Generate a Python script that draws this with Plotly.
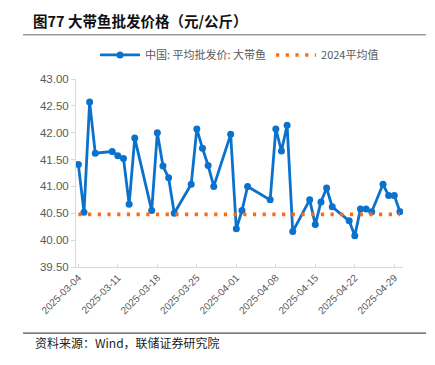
import plotly.graph_objects as go

dates = ["2025-03-04", "2025-03-05", "2025-03-06", "2025-03-07", "2025-03-10", "2025-03-11",
         "2025-03-12", "2025-03-13", "2025-03-14", "2025-03-17", "2025-03-18", "2025-03-19",
         "2025-03-20", "2025-03-21", "2025-03-24", "2025-03-25", "2025-03-26", "2025-03-27",
         "2025-03-28", "2025-03-31", "2025-04-01", "2025-04-02", "2025-04-03", "2025-04-07",
         "2025-04-08", "2025-04-09", "2025-04-10", "2025-04-11", "2025-04-14", "2025-04-15",
         "2025-04-16", "2025-04-17", "2025-04-18", "2025-04-21", "2025-04-22", "2025-04-23",
         "2025-04-24", "2025-04-25", "2025-04-27", "2025-04-28", "2025-04-29", "2025-04-30"]
price = [41.41, 40.52, 42.57, 41.62, 41.65, 41.57,
         41.52, 40.67, 41.90, 40.55, 42.00, 41.38,
         41.16, 40.50, 41.04, 42.07, 41.71, 41.39,
         41.00, 41.97, 40.21, 40.55, 41.00, 40.75,
         42.07, 41.66, 42.14, 40.16, 40.75, 40.29,
         40.71, 40.97, 40.62, 40.36, 40.08, 40.58,
         40.58, 40.53, 41.04, 40.83, 40.83, 40.53]
avg_2024 = 40.48
avg_line = [avg_2024] * len(dates)

tick_dates = ["2025-03-04", "2025-03-11", "2025-03-18", "2025-03-25", "2025-04-01",
              "2025-04-08", "2025-04-15", "2025-04-22", "2025-04-29"]
y_ticks = [39.5, 40.0, 40.5, 41.0, 41.5, 42.0, 42.5, 43.0]

BLUE = "#0a72cc"
ORANGE = "#ff6a10"
GRAY = "#595959"
AXIS = "#d9d9d9"

fig = go.Figure()
fig.add_trace(go.Scatter(
    x=dates, y=price, mode="lines+markers", name="中国: 平均批发价: 大带鱼",
    line=dict(color=BLUE, width=2.8), marker=dict(color=BLUE, size=7)))
fig.add_trace(go.Scatter(
    x=dates, y=avg_line, mode="lines", name="2024平均值",
    line=dict(color=ORANGE, width=3.6, dash="3.2px,6.5px")))

# page body has an 8px margin: work in screen coordinates, shifted by OFF
OFF = 8
W, H = 435 - OFF, 365 - OFF
L, T = 76 - OFF, 79 - OFF
R = W - (403 - OFF)
B = H - (266.7 - OFF)
pw = W - L - R
ph = H - T - B

def px_x(x):
    return (x - OFF - L) / pw

def px_y(y):
    return (H - B - (y - OFF)) / ph

fig.update_layout(
    width=W, height=H,
    margin=dict(l=L, r=R, t=T, b=B, autoexpand=False),
    paper_bgcolor="white", plot_bgcolor="white",
    font=dict(family="Liberation Sans, Arial, Noto Sans CJK SC", color=GRAY),
    showlegend=True,
    legend=dict(orientation="h", x=0.5, xanchor="center", y=px_y(55), yanchor="middle",
                font=dict(family="Noto Sans CJK SC", size=11, color="#595959"),
                bgcolor="rgba(0,0,0,0)", itemwidth=40, tracegroupgap=0),
    xaxis=dict(type="date", range=["2025-03-03 14:00", "2025-04-30 13:00"],
               tickvals=tick_dates, tickformat="%Y-%m-%d", tickangle=-45,
               tickfont=dict(size=10, color=GRAY, family="Liberation Sans, Arial"),
               showgrid=False, showline=True, linecolor=AXIS, linewidth=1,
               ticks="inside", ticklen=3, tickcolor=AXIS, zeroline=False, automargin=False),
    yaxis=dict(range=[39.5, 43.0], tickvals=y_ticks, tickformat=".2f",
               tickfont=dict(size=11.5, color=GRAY, family="Liberation Sans, Arial"),
               showgrid=False, showline=True, linecolor=AXIS, linewidth=1,
               ticks="outside", ticklen=4, tickcolor=AXIS, zeroline=False, automargin=False),
    title=dict(text="<b>图77 大带鱼批发价格（元/公斤）</b>", x=(33 - OFF) / W, xanchor="left",
               y=1 - (22 - OFF) / H, yanchor="middle",
               font=dict(family="Noto Sans CJK SC", size=14.5, color="#111111")),
)

fig.add_shape(type="line", xref="paper", yref="paper",
              x0=px_x(23), x1=px_x(426), y0=px_y(34.7), y1=px_y(34.7),
              line=dict(color="#9a9a9a", width=1.5))
fig.add_shape(type="line", xref="paper", yref="paper",
              x0=px_x(23), x1=px_x(426), y0=px_y(332.7), y1=px_y(332.7),
              line=dict(color="#505050", width=1.2))
fig.add_annotation(text="资料来源：Wind，联储证券研究院", xref="paper", yref="paper",
                   x=px_x(33), y=px_y(342), xanchor="left", yanchor="middle",
                   showarrow=False,
                   font=dict(family="Noto Sans CJK SC", size=12, color="#222222"))

fig.write_html("out.html")
